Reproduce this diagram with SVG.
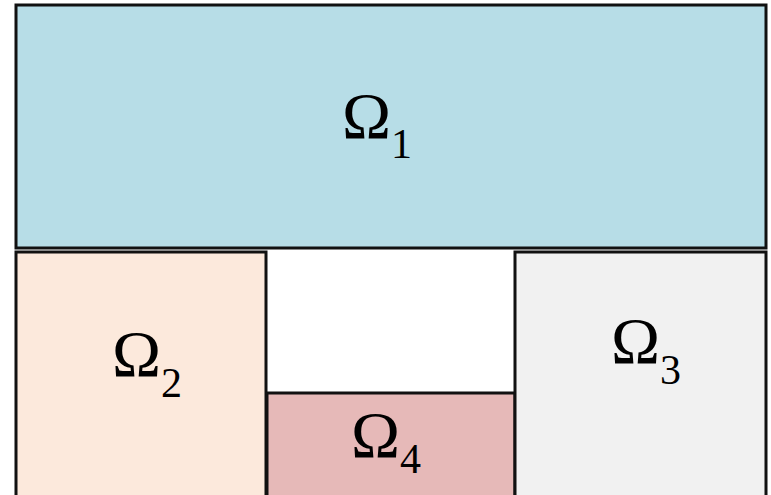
<svg xmlns="http://www.w3.org/2000/svg" width="771" height="495" viewBox="0 0 771 495">
<style>
.r{stroke:#111;stroke-width:3}
.t{font-family:"Liberation Serif","Times New Roman",serif;font-size:66px;fill:#000}
.s{font-size:42px}
</style>
<rect width="771" height="495" fill="#fff"/>
<g id="omega1"><rect class="r" x="16" y="5" width="750" height="243" fill="#b7dde7"/><text class="t" x="342" y="138">Ω<tspan class="s" dy="20">1</tspan></text></g>
<g id="omega2"><rect class="r" x="16" y="252" width="250" height="250" fill="#fce9dc"/><text class="t" x="112" y="376">Ω<tspan class="s" dy="21">2</tspan></text></g>
<g id="omega4"><rect class="r" x="267" y="393" width="248" height="110" fill="#e6b9b8"/><text class="t" x="351" y="457">Ω<tspan class="s" dy="16">4</tspan></text></g>
<g id="omega3"><rect class="r" x="515" y="252" width="251" height="250" fill="#f1f1f1"/><text class="t" x="611" y="363">Ω<tspan class="s" dy="21">3</tspan></text></g>
</svg>
